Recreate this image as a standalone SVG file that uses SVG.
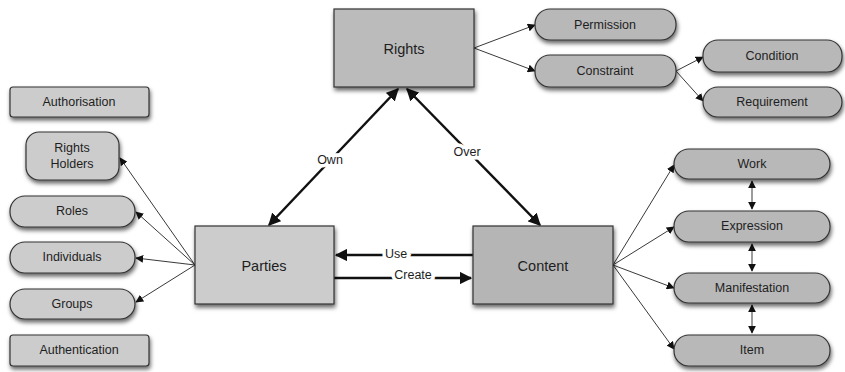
<svg xmlns="http://www.w3.org/2000/svg" width="845" height="372" viewBox="0 0 845 372">
<defs>
<filter id="sh" x="-10%" y="-10%" width="130%" height="140%">
<feDropShadow dx="1" dy="3" stdDeviation="2" flood-color="#000" flood-opacity="0.6"/>
</filter>
<marker id="ah" viewBox="0 0 10 10" refX="9" refY="5" markerWidth="8" markerHeight="8" markerUnits="userSpaceOnUse" orient="auto-start-reverse">
<path d="M0,0 L10,5 L0,10 z" fill="#111"/>
</marker>
<marker id="ahb" viewBox="0 0 10 10" refX="9" refY="5" markerWidth="5" markerHeight="5" orient="auto-start-reverse">
<path d="M0,0 L10,5 L0,10 z" fill="#111"/>
</marker>
</defs>
<style>
text{font-family:"Liberation Sans",Arial,sans-serif;fill:#1e1e1e;text-anchor:middle;dominant-baseline:central}
.n{font-size:12.5px}
.b{font-size:14.5px}
.box{stroke:#333;stroke-width:1.2;filter:url(#sh)}
.pill{fill:#b8b8b8;stroke:#333;stroke-width:1.2;filter:url(#sh)}
.lt{fill:#cccccc}
.thin{stroke:#222;stroke-width:0.9;fill:none;marker-end:url(#ah)}
.thick{stroke:#111;stroke-width:2.5;fill:none;marker-end:url(#ahb)}
.lbl{font-size:12.5px;paint-order:stroke;stroke:#fff;stroke-width:7px}
</style>
<g id="connectors">
<line class="thin" x1="195" y1="265" x2="120" y2="158"/>
<line class="thin" x1="195" y1="265" x2="136" y2="212"/>
<line class="thin" x1="195" y1="265" x2="136" y2="258"/>
<line class="thin" x1="195" y1="265" x2="136" y2="302"/>
<line class="thin" x1="474" y1="48" x2="535" y2="25"/>
<line class="thin" x1="474" y1="48" x2="535" y2="71"/>
<line class="thin" x1="676" y1="71" x2="703" y2="57"/>
<line class="thin" x1="676" y1="71" x2="703" y2="101"/>
<line class="thin" x1="613" y1="265" x2="674" y2="165"/>
<line class="thin" x1="613" y1="265" x2="674" y2="227"/>
<line class="thin" x1="613" y1="265" x2="674" y2="288"/>
<line class="thin" x1="613" y1="265" x2="674" y2="349"/>
<line class="thin" x1="752" y1="181" x2="752" y2="209" marker-start="url(#ah)"/>
<line class="thin" x1="752" y1="244" x2="752" y2="271" marker-start="url(#ah)"/>
<line class="thin" x1="752" y1="305" x2="752" y2="333" marker-start="url(#ah)"/>
<line class="thick" x1="398" y1="89" x2="269" y2="225" marker-start="url(#ahb)"/>
<line class="thick" x1="407" y1="89" x2="540" y2="225" marker-start="url(#ahb)"/>
<line class="thick" x1="473" y1="255" x2="336" y2="255"/>
<line class="thick" x1="334" y1="278" x2="471" y2="278"/>
<text class="lbl" x="330" y="160">Own</text>
<text class="lbl" x="467" y="152">Over</text>
<text class="lbl" x="396" y="254">Use</text>
<text class="lbl" x="413" y="275">Create</text>
</g>
<g id="rights"><rect class="box" x="334" y="9" width="140" height="78" fill="#bbbbbb"/><text class="b" x="404" y="49">Rights</text></g>
<g id="parties"><rect class="box lt" x="195" y="226" width="139" height="78"/><text class="b" x="264" y="266">Parties</text></g>
<g id="content"><rect class="box" x="473" y="226" width="140" height="78" fill="#b5b5b5"/><text class="b" x="543" y="266">Content</text></g>
<g id="authorisation"><rect class="pill lt" x="10" y="87" width="139" height="30" rx="3"/><text class="n" x="79" y="102">Authorisation</text></g>
<g id="rightsholders"><rect class="pill lt" x="26" y="132" width="93" height="48" rx="13"/><text class="n" x="72" y="148">Rights</text><text class="n" x="72" y="164">Holders</text></g>
<g id="roles"><rect class="pill lt" x="10" y="196" width="125" height="31" rx="15"/><text class="n" x="72" y="211">Roles</text></g>
<g id="individuals"><rect class="pill lt" x="10" y="242" width="125" height="31" rx="15"/><text class="n" x="72" y="257">Individuals</text></g>
<g id="groups"><rect class="pill lt" x="10" y="289" width="125" height="30" rx="15"/><text class="n" x="72" y="304">Groups</text></g>
<g id="authentication"><rect class="pill lt" x="10" y="335" width="139" height="31" rx="3"/><text class="n" x="79" y="350">Authentication</text></g>
<g id="permission"><rect class="pill" x="535" y="9" width="141" height="31" rx="15"/><text class="n" x="605" y="25">Permission</text></g>
<g id="constraint"><rect class="pill" x="535" y="55" width="141" height="32" rx="15"/><text class="n" x="605" y="71">Constraint</text></g>
<g id="condition"><rect class="pill" x="703" y="40" width="139" height="32" rx="15"/><text class="n" x="772" y="56">Condition</text></g>
<g id="requirement"><rect class="pill" x="703" y="87" width="139" height="30" rx="15"/><text class="n" x="772" y="102">Requirement</text></g>
<g id="work"><rect class="pill" x="674" y="149" width="156" height="30" rx="15"/><text class="n" x="752" y="164">Work</text></g>
<g id="expression"><rect class="pill" x="674" y="211" width="156" height="31" rx="15"/><text class="n" x="752" y="226">Expression</text></g>
<g id="manifestation"><rect class="pill" x="674" y="273" width="156" height="30" rx="15"/><text class="n" x="752" y="288">Manifestation</text></g>
<g id="item"><rect class="pill" x="674" y="335" width="156" height="31" rx="15"/><text class="n" x="752" y="350">Item</text></g>
</svg>
